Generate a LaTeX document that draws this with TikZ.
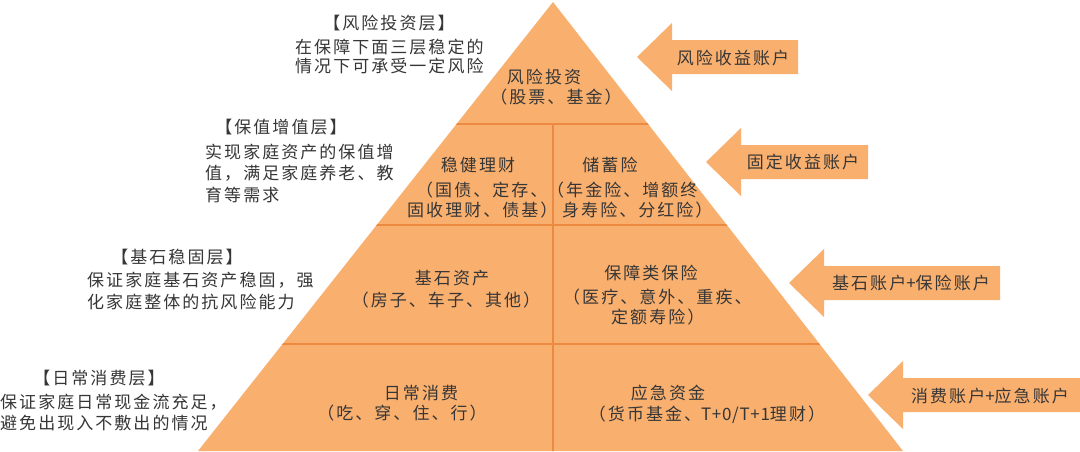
\documentclass[tikz,border=0pt]{standalone}
\usepackage{fontspec}
\newfontfamily\cjk{Noto Sans CJK SC}[LetterSpace=12]
\definecolor{pyrfill}{HTML}{F9AF6E}
\definecolor{pyrline}{HTML}{EC8A42}
\definecolor{txt}{HTML}{363636}
\newcommand{\accarrow}[3]{%
  \fill[pyrfill] (#1,#2) -- (#1+35,#2-34) -- (#1+35,#2-17) -- (#3,#2-17)
    -- (#3,#2+17) -- (#1+35,#2+17) -- (#1+35,#2+34) -- cycle;}
\newcommand{\nols}[1]{{\addfontfeatures{LetterSpace=4}#1}}
\begin{document}
\begin{tikzpicture}[x=1pt,y=-1pt,
  lbl/.style={inner sep=0pt, text=txt, font=\cjk\fontsize{17}{20}\selectfont,
              text height=14pt, text depth=2pt},
  divline/.style={draw=pyrline, line width=2.4pt}]
\useasboundingbox (0,0) rectangle (1080,451);
\fill[white] (0,0) rectangle (1080,451);
% pyramid
\coordinate (apex) at (553,2);
\coordinate (bl) at (198,451);
\coordinate (br) at (903,451);
\fill[pyrfill] (apex) -- (br) -- (bl) -- cycle;
\begin{scope}
  \clip (apex) -- (br) -- (bl) -- cycle;
  \draw[divline] (0,124) -- (1080,124);
  \draw[divline] (0,225) -- (1080,225);
  \draw[divline] (0,344) -- (1080,344);
  \draw[divline] (553,124) -- (553,452);
\end{scope}
% arrows
\accarrow{637}{57}{798}
\accarrow{706}{162}{868}
\accarrow{789}{283}{1000}
\accarrow{868}{395}{1081}
\node[lbl] (a1) at (733,58) {风险收益账户};
\node[lbl] (a2) at (803,162) {固定收益账户};
\node[lbl] (a3) at (911,283) {基石账户\nols{+}保险账户};
\node[lbl] (a4) at (990,396) {消费账户\nols{+}应急账户};
% pyramid texts
\node[lbl] (p1a) at (544,77) {风险投资};
\node[lbl] (p1b) at (556,97) {（股票、基金）};
\node[lbl] (p2a) at (478,165) {稳健理财};
\node[lbl,anchor=west] (p2b) at (416,190) {（国债、定存、};
\node[lbl,anchor=west] (p2c) at (407,210) {固收理财、债基）};
\node[lbl] (p3a) at (610,165) {储蓄险};
\node[lbl,anchor=west] (p3b) at (547,190) {（年金险、增额终};
\node[lbl,anchor=west] (p3c) at (562,210) {身寿险、分红险）};
\node[lbl] (p4a) at (452,278) {基石资产};
\node[lbl] (p4b) at (446,300) {（房子、车子、其他）};
\node[lbl] (p5a) at (651,273) {保障类保险};
\node[lbl,anchor=west] (p5b) at (563,297) {（医疗、意外、重疾、};
\node[lbl,anchor=west] (p5c) at (611,317) {定额寿险）};
\node[lbl] (p6a) at (421,393) {日常消费};
\node[lbl] (p6b) at (402,413) {（吃、穿、住、行）};
\node[lbl] (p7a) at (668,393) {应急资金};
\node[lbl] (p7b) at (707,414) {（货币基金、\nols{T+0/T+1}理财）};
% left descriptions
\node[lbl] (h1) at (389,23) {【风险投资层】};
\node[lbl,anchor=west] (h1a) at (295,47) {在保障下面三层稳定的};
\node[lbl,anchor=west] (h1b) at (295,66) {情况下可承受一定风险};
\node[lbl] (h2) at (281,127) {【保值增值层】};
\node[lbl,anchor=west] (h2a) at (205,152) {实现家庭资产的保值增};
\node[lbl,anchor=west] (h2b) at (205,173) {值，满足家庭养老、教};
\node[lbl,anchor=west] (h2c) at (205,195) {育等需求};
\node[lbl] (h3) at (177,257) {【基石稳固层】};
\node[lbl,anchor=west] (h3a) at (87,280) {保证家庭基石资产稳固，强};
\node[lbl,anchor=west] (h3b) at (87,302) {化家庭整体的抗风险能力};
\node[lbl] (h4) at (99,378) {【日常消费层】};
\node[lbl,anchor=west] (h4a) at (0,402) {保证家庭日常现金流充足，};
\node[lbl,anchor=west] (h4b) at (0,423) {避免出现入不敷出的情况};
\end{tikzpicture}
\end{document}
